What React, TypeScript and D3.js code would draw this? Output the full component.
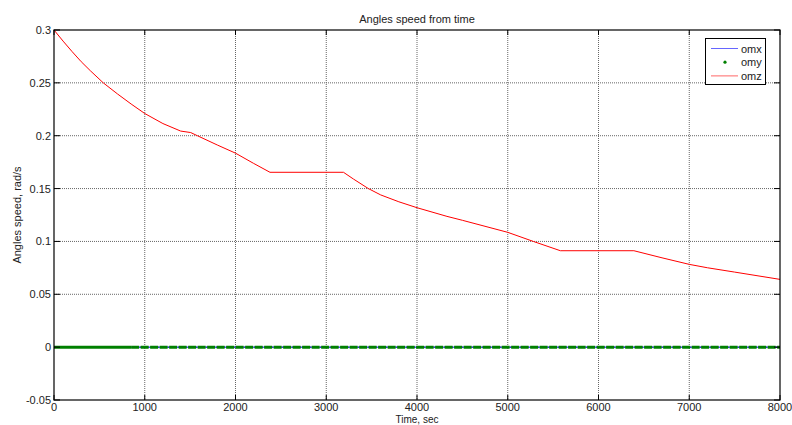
import * as d3 from "d3";

// omz, rad/s
const timeSec = [0, 100, 200, 300, 400, 543, 700, 850, 1000, 1200, 1396, 1506, 1580, 1800, 2000, 2200, 2380, 3190, 3300, 3464, 3600, 3800, 4000, 4330, 4500, 5000, 5282, 5580, 6390, 6700, 7000, 7200, 7500, 8000];
const omz = [0.3, 0.2895, 0.2795, 0.27, 0.2615, 0.25, 0.2395, 0.23, 0.221, 0.2115, 0.2044, 0.203, 0.2, 0.1912, 0.1835, 0.1738, 0.1654, 0.1654, 0.159, 0.15, 0.144, 0.1375, 0.1319, 0.1237, 0.12, 0.1086, 0.1, 0.0912, 0.0912, 0.0845, 0.0783, 0.0751, 0.071, 0.0641];

const omxTime = [0, 8000];
const omx = [0, 0];
const omyTime = [0, 850, 8000];
const omy = [0, 0, 0];

const xTicks = [0, 1000, 2000, 3000, 4000, 5000, 6000, 7000, 8000];
const yTicks = [-0.05, 0, 0.05, 0.1, 0.15, 0.2, 0.25, 0.3];
const yTickLabels = ["-0.05", "0", "0.05", "0.1", "0.15", "0.2", "0.25", "0.3"];

const legendNames = ["omx", "omy", "omz"];

const width = 792;
const height = 425;
const margin = { top: 30, right: 12, bottom: 25, left: 54 };
const font = "'Liberation Sans', Arial, sans-serif";

export default function App() {
  const x = d3.scaleLinear().domain([0, 8000]).range([margin.left, width - margin.right]);
  const y = d3.scaleLinear().domain([-0.05, 0.3]).range([height - margin.bottom, margin.top]);
  const line = d3
    .line<[number, number]>()
    .x((d) => x(d[0]))
    .y((d) => y(d[1]));

  const x0 = x(0);
  const x1 = x(8000);
  const yTop = y(0.3);
  const yBot = y(-0.05);

  const omzPts = timeSec.map((t, i) => [t, omz[i]] as [number, number]);
  const omxPts = omxTime.map((t, i) => [t, omx[i]] as [number, number]);
  const omyPts = omyTime.map((t, i) => [t, omy[i]] as [number, number]);

  return (
    <svg
      width={width}
      height={height}
      style={{ position: "absolute", left: 0, top: 0, background: "#fff" }}
      fontFamily={font}
    >
      <rect x={0} y={0} width={width} height={height} fill="#fff" />

      {/* grid */}
      {xTicks.slice(1, -1).map((t) => (
        <line key={"gx" + t} x1={x(t)} x2={x(t)} y1={yTop} y2={yBot} stroke="#666" strokeDasharray="1 1" />
      ))}
      {yTicks.slice(1, -1).map((v) => (
        <line key={"gy" + v} x1={x0} x2={x1} y1={y(v)} y2={y(v)} stroke="#666" strokeDasharray="1 1" />
      ))}

      {/* series */}
      <path d={line(omxPts) ?? ""} fill="none" stroke="#0000ff" strokeWidth={1} />
      <path d={line(omyPts.slice(0, 2)) ?? ""} fill="none" stroke="#008000" strokeWidth={3} />
      <path d={line(omyPts.slice(1)) ?? ""} fill="none" stroke="#008000" strokeWidth={3} strokeDasharray="8 1.5" />
      <path d={line(omzPts) ?? ""} fill="none" stroke="#ff0000" strokeWidth={1} />

      {/* ticks */}
      {xTicks.map((t) => (
        <g key={"tx" + t}>
          <line x1={x(t)} x2={x(t)} y1={yBot} y2={yBot - 5} stroke="#000" />
          <line x1={x(t)} x2={x(t)} y1={yTop} y2={yTop + 5} stroke="#000" />
          <text x={x(t)} y={411} fontSize={11} textAnchor="middle" fill="#222">
            {t}
          </text>
        </g>
      ))}
      {yTicks.map((v, i) => (
        <g key={"ty" + v}>
          <line x1={x0} x2={x0 + 6} y1={y(v)} y2={y(v)} stroke="#000" />
          <line x1={x1} x2={x1 - 6} y1={y(v)} y2={y(v)} stroke="#000" />
          <text x={51} y={y(v) + 4} fontSize={11} textAnchor="end" fill="#222">
            {yTickLabels[i]}
          </text>
        </g>
      ))}

      {/* box */}
      <rect x={x0} y={yTop} width={x1 - x0} height={yBot - yTop} fill="none" stroke="#000" strokeWidth={1.2} />

      {/* labels */}
      <text x={(x0 + x1) / 2} y={23} fontSize={11} textAnchor="middle" fill="#222">
        Angles speed from time
      </text>
      <text x={(x0 + x1) / 2} y={423} fontSize={10} textAnchor="middle" fill="#222">
        Time, sec
      </text>
      <text
        transform={`translate(21, ${(yTop + yBot) / 2}) rotate(-90)`}
        fontSize={11}
        textAnchor="middle"
        fill="#222"
      >
        Angles speed, rad/s
      </text>

      {/* legend */}
      <g>
        <rect x={705.5} y={38.5} width={60} height={46} fill="#fff" stroke="#000" />
        {legendNames.map((name, i) => {
          const ly = 48.5 + i * 13.7;
          return (
            <g key={name}>
              {i === 1 ? (
                <circle cx={725} cy={ly} r={1.6} fill="#008000" />
              ) : (
                <line x1={711} x2={738} y1={ly} y2={ly} stroke={i === 0 ? "#0000ff" : "#ff0000"} strokeOpacity={0.6} />
              )}
              <text x={741} y={ly + 4} fontSize={11} fill="#222">
                {name}
              </text>
            </g>
          );
        })}
      </g>
    </svg>
  );
}
